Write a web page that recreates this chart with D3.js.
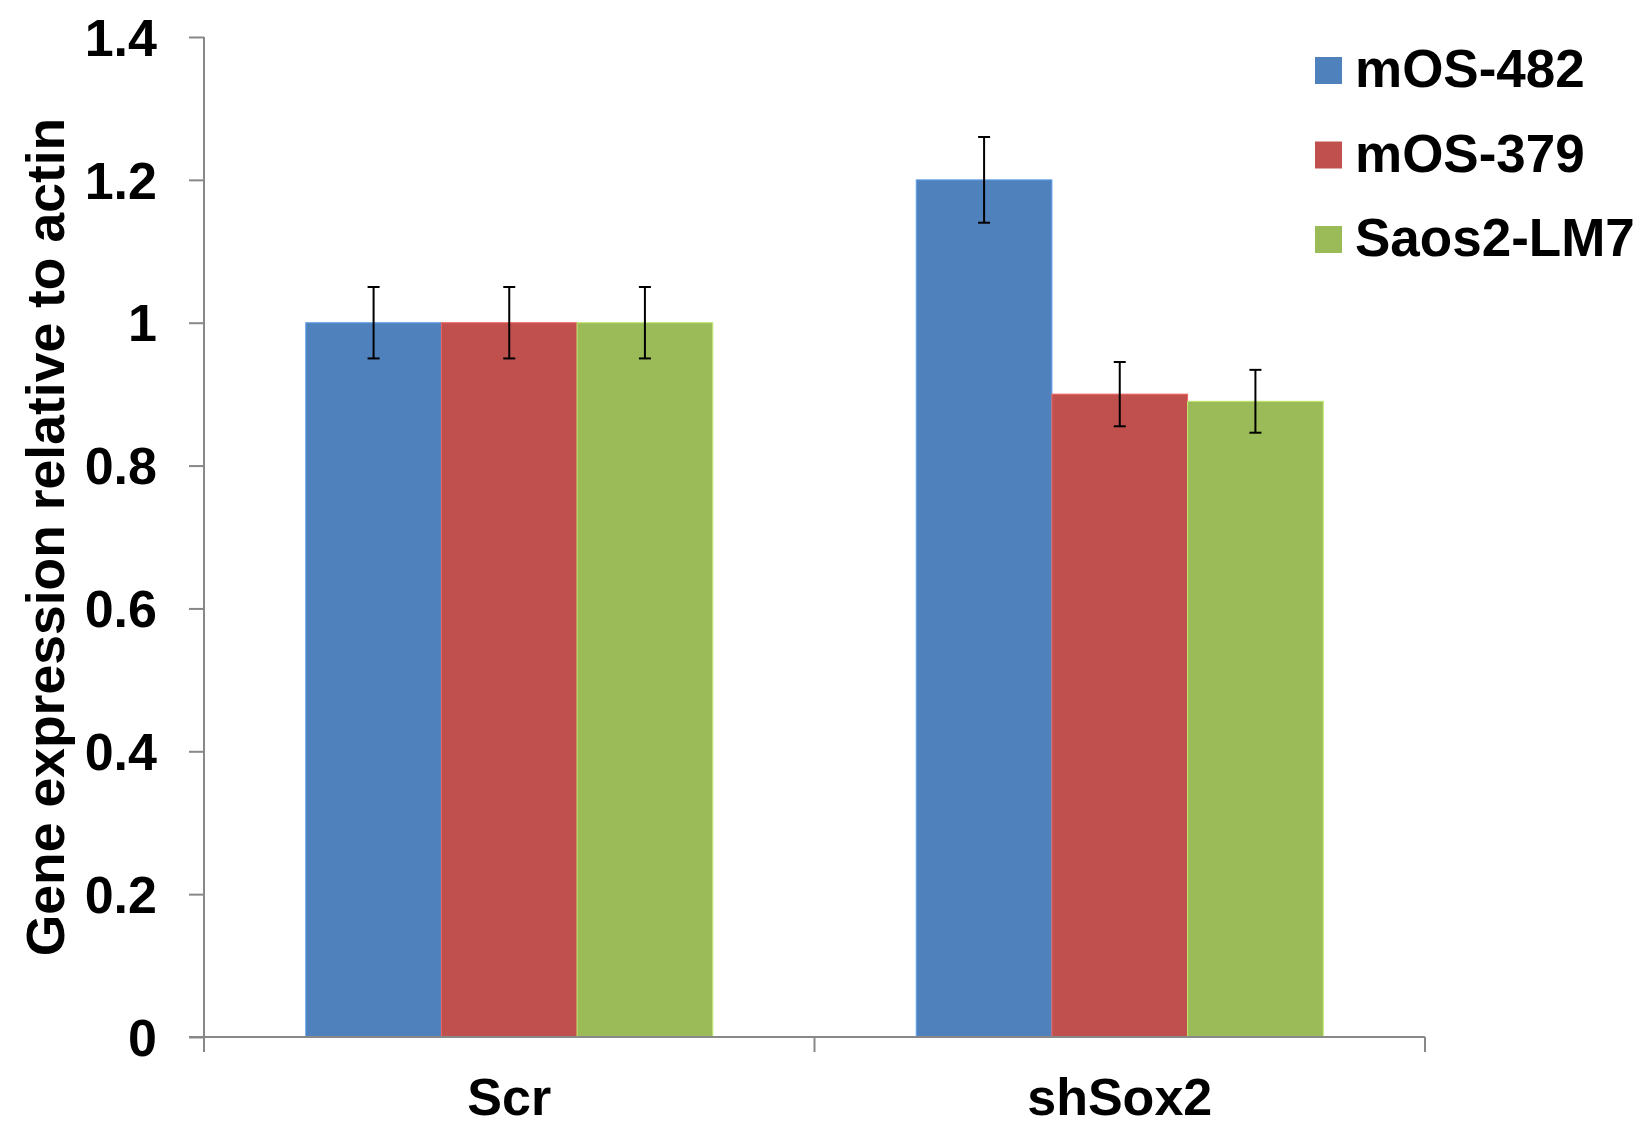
<!DOCTYPE html>
<html>
<head>
<meta charset="utf-8">
<script src="https://cdn.jsdelivr.net/npm/d3@7"></script>
<style>
  html, body { margin: 0; padding: 0; background: #fff; }
  svg text { font-family: "Liberation Sans", Arial, sans-serif; font-weight: bold; fill: #000; }
</style>
</head>
<body>
<div id="root"></div>
<script>
const svgWidth = 1641;
const svgHeight = 1125;

const categories = ["Scr", "shSox2"];
const seriesNames = ["mOS-482", "mOS-379", "Saos2-LM7"];
const seriesColors = ["#4f81bd", "#c0504d", "#9bbb59"];
// values per series, in category order
const mos482 = [1.0, 1.2];
const mos379 = [1.0, 0.9];
const saos2 = [1.0, 0.89];
// error bar half widths
const mos482Err = [0.05, 0.06];
const mos379Err = [0.05, 0.045];
const saos2Err = [0.05, 0.044];
const yTicks = [0, 0.2, 0.4, 0.6, 0.8, 1, 1.2, 1.4];

const seriesValues = [mos482, mos379, saos2];
const seriesErrors = [mos482Err, mos379Err, saos2Err];

const margin = {left: 204, right: 216, top: 37, bottom: 88};
const plotW = svgWidth - margin.left - margin.right;
const plotH = svgHeight - margin.top - margin.bottom;

// band with gap width 150% like the source
const xScale = d3.scaleBand()
      .domain(categories)
      .range([0, plotW]);

const inner = d3.scaleBand()
      .domain(d3.range(seriesNames.length))
      .range([xScale.bandwidth() * 0.75 / 4.5, xScale.bandwidth() - xScale.bandwidth() * 0.75 / 4.5]);

const yScale = d3.scaleLinear()
      .domain([0, 1.4])
      .range([plotH, 0]);

const mainSvg = d3.select("#root")
      .append("svg")
      .attr("width", svgWidth)
      .attr("height", svgHeight);

const g = mainSvg.append("g")
      .attr("transform", `translate(${margin.left},${margin.top})`);

//Bars
const barData = [];
seriesValues.forEach((vals, s) => {
  vals.forEach((v, c) => {
    barData.push({s: s, c: categories[c], v: v, e: seriesErrors[s][c]});
  });
});

g.selectAll("rect.bar")
  .data(barData)
  .join("rect")
  .attr("class", "bar")
  .attr("x", d => xScale(d.c) + inner(d.s))
  .attr("y", d => yScale(d.v))
  .attr("width", inner.bandwidth())
  .attr("height", d => yScale(0) - yScale(d.v))
  .attr("fill", d => seriesColors[d.s])
  .attr("stroke", d => d3.color(seriesColors[d.s]).brighter(0.6))
  .attr("stroke-width", 1);

//Error bars
const errG = g.selectAll("g.err")
  .data(barData)
  .join("g")
  .attr("class", "err")
  .attr("transform", d => `translate(${xScale(d.c) + inner(d.s) + inner.bandwidth() / 2},0)`);

errG.append("line")
  .attr("y1", d => yScale(d.v + d.e))
  .attr("y2", d => yScale(d.v - d.e))
  .attr("stroke", "#000").attr("stroke-width", 2);
errG.append("line")
  .attr("x1", -6).attr("x2", 6)
  .attr("y1", d => yScale(d.v + d.e)).attr("y2", d => yScale(d.v + d.e))
  .attr("stroke", "#000").attr("stroke-width", 2);
errG.append("line")
  .attr("x1", -6).attr("x2", 6)
  .attr("y1", d => yScale(d.v - d.e)).attr("y2", d => yScale(d.v - d.e))
  .attr("stroke", "#000").attr("stroke-width", 2);

//Y axis
const yAxis = d3.axisLeft(yScale)
      .tickValues(yTicks)
      .tickSize(15)
      .tickPadding(32)
      .tickFormat(d => d3.format("~g")(d));

const yAxisG = g.append("g").call(yAxis);
yAxisG.select(".domain").attr("stroke", "#888").attr("stroke-width", 2)
  .attr("d", `M0,0V${plotH}`);
yAxisG.selectAll(".tick line").attr("stroke", "#888").attr("stroke-width", 2);
yAxisG.selectAll(".tick text")
  .attr("font-size", "52px")
  .attr("font-family", null)
  .attr("dy", "0.35em");

//X axis
const xAxisG = g.append("g").attr("transform", `translate(0,${plotH})`);
xAxisG.append("line")
  .attr("x1", -15).attr("x2", plotW)
  .attr("stroke", "#888").attr("stroke-width", 2);
xAxisG.selectAll("line.sep")
  .data([0, ...categories.map(c => xScale(c) + xScale.bandwidth())])
  .join("line")
  .attr("class", "sep")
  .attr("x1", d => d).attr("x2", d => d)
  .attr("y1", 0).attr("y2", 15)
  .attr("stroke", "#888").attr("stroke-width", 2);
xAxisG.selectAll("text")
  .data(categories)
  .join("text")
  .attr("x", d => xScale(d) + xScale.bandwidth() / 2)
  .attr("y", 78)
  .attr("text-anchor", "middle")
  .attr("font-size", "52px")
  .text(d => d);

//Y title
mainSvg.append("text")
  .attr("transform", `translate(64,${margin.top + plotH / 2}) rotate(-90)`)
  .attr("text-anchor", "middle")
  .attr("font-size", "53.5px")
  .text("Gene expression relative to actin");

//Legend
const legend = mainSvg.selectAll("g.legend")
  .data(seriesNames)
  .join("g")
  .attr("class", "legend")
  .attr("transform", (d, i) => `translate(1315,${57 + i * 84.5})`);
legend.append("rect")
  .attr("width", 27).attr("height", 27)
  .attr("fill", (d, i) => seriesColors[i]);
legend.append("text")
  .attr("x", 40)
  .attr("y", 30)
  .attr("font-size", "53px")
  .text(d => d);
</script>
</body>
</html>
